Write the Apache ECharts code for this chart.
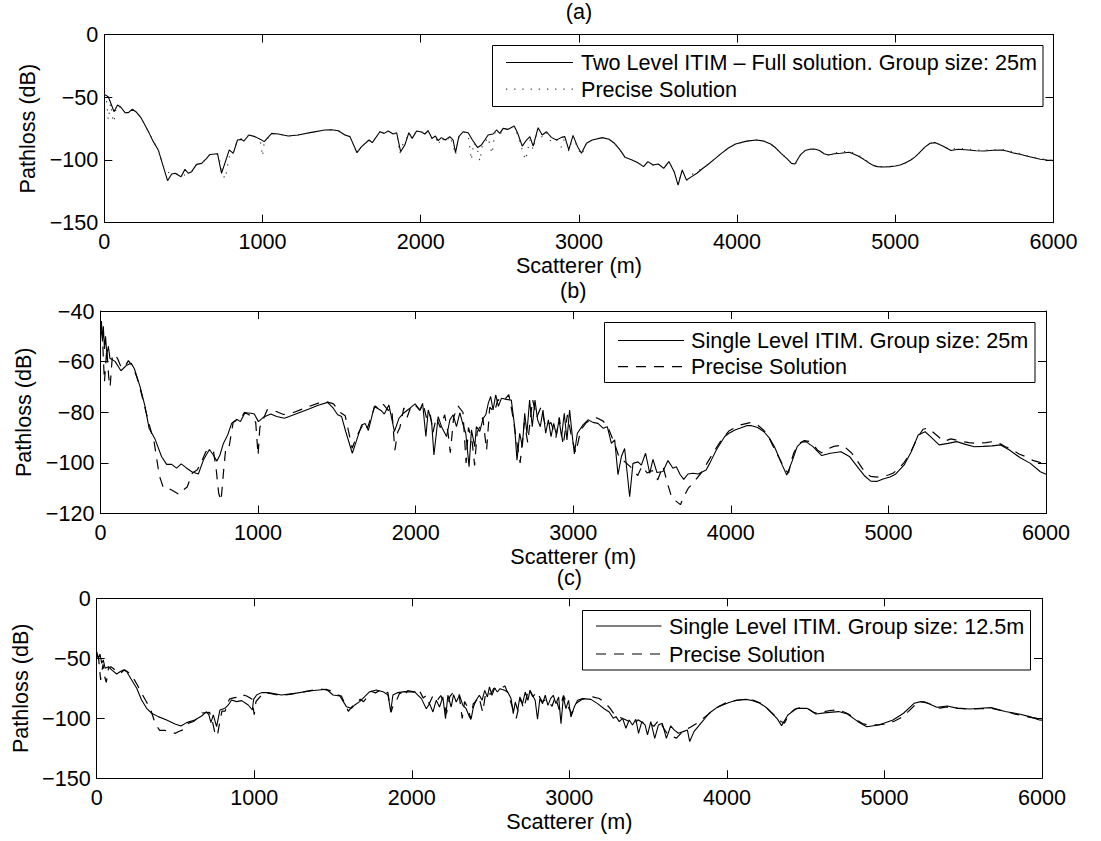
<!DOCTYPE html>
<html><head><meta charset="utf-8">
<script src="https://cdn.jsdelivr.net/npm/echarts@6/dist/echarts.min.js"></script>
<style>html,body{margin:0;padding:0;background:#fff}#c{width:1101px;height:841px}</style>
</head><body><div id="c"></div>
<script>
// ---------- data ----------
const xTicks = [0, 1000, 2000, 3000, 4000, 5000, 6000];
const yTicksA = [-150, -100, -50, 0];
const yTicksB = [-120, -100, -80, -60, -40];
const yTicksC = [-150, -100, -50, 0];
const titles = ['(a)', '(b)', '(c)'];
const xName = 'Scatterer (m)';
const yName = 'Pathloss (dB)';
const legendA = ['Two Level ITIM \u2013 Full solution. Group size: 25m', 'Precise Solution'];
const legendB = ['Single Level ITIM. Group size: 25m', 'Precise Solution'];
const legendC = ['Single Level ITIM. Group size: 12.5m', 'Precise Solution'];

// Precise solution (shared by all panels)
const precise = [[0,-47],[12,-50],[25,-68],[40,-55],[52,-66],[61,-70],[75,-58],[90,-57],[110,-59],[131,-62.3],[152,-62.3],[177,-59.6],[204,-62],[230,-66],[257,-72],[285,-79],[310,-85],[341,-92],[373,-105],[400,-110],[430,-110],[460,-111],[500,-112.5],[520,-111],[550,-109.5],[583,-104],[615,-102.7],[645,-99],[668,-95.6],[716,-95],[735,-103],[750,-112],[765,-115],[780,-104],[795,-94],[815,-94],[842,-84],[868,-83],[890,-82.5],[914,-80],[952,-81.4],[985,-84],[1000,-97],[1011,-86],[1058,-79],[1100,-79.3],[1162,-80.9],[1225,-80.1],[1310,-78],[1394,-76.1],[1437,-75.9],[1479,-76.7],[1521,-80.1],[1553,-81.4],[1597,-94.2],[1626,-89.4],[1673,-84.1],[1694,-86.2],[1742,-77.5],[1769,-78.8],[1795,-76.9],[1826,-79.3],[1848,-78.3],[1868,-95],[1885,-88],[1900,-86],[1925,-78.3],[1946,-82],[1974,-77],[2005,-77.7],[2026,-79.3],[2047,-76.7],[2072,-83],[2093,-81],[2110,-88],[2131,-82],[2156,-86],[2184,-81],[2205,-88],[2220,-96],[2241,-82],[2268,-77.5],[2300,-80],[2320,-100],[2335,-86],[2359,-92],[2374,-101],[2390,-88],[2405,-86],[2426,-82],[2450,-95],[2470,-78],[2500,-80],[2521,-75],[2553,-76],[2591,-73],[2612,-80],[2642,-92],[2663,-100],[2690,-84],[2711,-92],[2742,-75],[2768,-82],[2795,-78],[2826,-86],[2858,-84],[2890,-90],[2911,-82],[2936,-93],[2963,-81],[2990,-90],[3016,-96],[3048,-87],[3084,-84],[3148,-82.2],[3190,-83.5],[3225,-86.7],[3260,-92],[3292,-98],[3336,-100],[3370,-102],[3409,-105],[3436,-101.3],[3469,-104],[3502,-103],[3536,-106.7],[3569,-101.3],[3602,-109],[3627,-114],[3650,-115],[3680,-116.5],[3705,-113],[3730,-110],[3760,-108],[3812,-104],[3855,-99.5],[3901,-94.7],[3945,-90.5],[3990,-87.3],[4060,-85],[4123,-84.1],[4170,-85],[4212,-87.3],[4245,-90.5],[4278,-94.7],[4315,-99],[4344,-102.7],[4366,-104],[4385,-99],[4400,-96],[4430,-92.5],[4466,-91.2],[4495,-91.5],[4521,-92.5],[4550,-95],[4577,-96],[4615,-94.5],[4654,-93.5],[4710,-93],[4765,-96],[4800,-99],[4832,-102],[4860,-104.3],[4887,-105.3],[4930,-105.6],[4965,-105.3],[5000,-104.8],[5031,-104],[5065,-102.3],[5098,-100],[5125,-97.5],[5153,-94.2],[5185,-90],[5220,-86.7],[5253,-86.2],[5297,-88.6],[5352,-91.5],[5397,-90.5],[5463,-91.5],[5510,-92],[5563,-92.3],[5620,-92],[5674,-91.5],[5710,-92.5],[5740,-93.5],[5790,-95],[5829,-96.5],[5870,-97.5],[5917,-99],[5960,-99.8],[6000,-100.5]];

// (a) Two Level ITIM - full solution, group size 25 m
const twoLevel25 = [[0,-47.7],[25,-49.6],[45,-56],[61,-61.5],[84,-56.2],[105,-58],[131,-62.3],[152,-62.3],[177,-59.6],[204,-62],[230,-66],[257,-72.1],[285,-79],[310,-85.4],[341,-92],[373,-105.3],[400,-116.5],[426,-111.2],[447,-110.6],[485,-113.3],[510,-107.5],[531,-110.6],[552,-109.3],[583,-103.5],[615,-102.7],[645,-99],[668,-95.6],[716,-95.1],[741,-110.6],[762,-102.7],[790,-92],[815,-94.7],[842,-84.1],[868,-83.6],[882,-85],[914,-80.1],[952,-81.4],[988,-83.6],[1011,-85.4],[1058,-78.8],[1100,-79.3],[1162,-80.9],[1225,-80.1],[1310,-78],[1394,-76.1],[1437,-75.9],[1479,-76.7],[1521,-80.1],[1553,-81.4],[1597,-94.2],[1626,-89.4],[1673,-84.1],[1694,-86.2],[1742,-77.5],[1769,-78.8],[1795,-76.9],[1826,-79.3],[1848,-78.3],[1873,-93.4],[1900,-88],[1925,-78.3],[1946,-82.8],[1974,-76.9],[2005,-77.7],[2026,-79.3],[2047,-76.7],[2072,-82.8],[2093,-80.9],[2110,-84.6],[2131,-82.2],[2156,-84.1],[2184,-81.4],[2205,-84.1],[2220,-94.2],[2241,-81.4],[2268,-77.5],[2300,-78.3],[2327,-84.1],[2359,-90],[2384,-88],[2405,-84.1],[2426,-80.1],[2458,-79.3],[2479,-76.1],[2500,-78.8],[2521,-74.8],[2553,-75.6],[2591,-72.9],[2612,-78.3],[2642,-89],[2669,-84.1],[2690,-81.4],[2711,-89],[2742,-74.3],[2768,-80.1],[2795,-77.5],[2826,-82],[2858,-84.1],[2890,-82],[2911,-81.4],[2936,-92],[2963,-80.4],[2990,-89],[3016,-94.7],[3048,-86.7],[3084,-84.1],[3148,-82.2],[3190,-83.5],[3225,-86.7],[3260,-92],[3292,-97.9],[3336,-100],[3370,-102],[3409,-105.3],[3436,-101.3],[3469,-104],[3502,-103.2],[3536,-106.7],[3569,-101.3],[3602,-109.3],[3627,-120],[3653,-108],[3680,-116],[3713,-113.3],[3746,-110.6],[3780,-107],[3812,-104],[3855,-99.5],[3901,-94.7],[3945,-90.5],[3990,-87.3],[4060,-85],[4123,-84.1],[4170,-85],[4212,-87.3],[4245,-90.5],[4278,-94.7],[4315,-99],[4344,-102.7],[4366,-103.2],[4385,-99],[4400,-96],[4430,-92.5],[4466,-91.2],[4495,-91.5],[4521,-92.5],[4550,-95],[4577,-96],[4615,-95],[4654,-94.7],[4710,-93.9],[4765,-96.8],[4800,-99.5],[4832,-102.2],[4860,-104.3],[4887,-105.3],[4930,-105.6],[4965,-105.3],[5000,-104.8],[5031,-104],[5065,-102.3],[5098,-100],[5125,-97.5],[5153,-94.2],[5185,-90],[5220,-86.7],[5253,-86.2],[5297,-88.6],[5352,-92.5],[5397,-91.5],[5463,-92],[5510,-92.6],[5563,-92.8],[5620,-92.3],[5674,-92],[5710,-93],[5740,-94.2],[5790,-95.5],[5829,-96.8],[5870,-98],[5917,-99.4],[5960,-100],[6000,-100.5]];

// (b) Single Level ITIM, group size 25 m
const single25 = [[0,-48],[6,-44],[12,-52],[18,-46],[25,-55],[32,-50],[40,-57],[50,-54],[60,-58.7],[92,-59.9],[130,-63.6],[166,-61.4],[194,-60.6],[215,-62.8],[251,-69.9],[283,-77.8],[308,-86.3],[346,-90.6],[388,-97.6],[420,-100.6],[452,-100.6],[483,-102.1],[512,-100.4],[541,-101.8],[579,-103.5],[621,-104.4],[653,-98.9],[691,-94.7],[712,-96.5],[739,-99.3],[758,-96.9],[780,-92.3],[807,-89],[832,-84.4],[864,-82.8],[888,-83.7],[917,-80.2],[955,-80.4],[976,-80.7],[1002,-83.7],[1033,-82],[1080,-80.7],[1118,-81.7],[1167,-82.4],[1235,-80.8],[1319,-78.8],[1382,-77.2],[1441,-76.1],[1477,-78.4],[1505,-81],[1530,-81.7],[1556,-87.6],[1598,-96.2],[1626,-90.9],[1657,-85],[1679,-84.4],[1700,-87.2],[1738,-77.7],[1780,-79.3],[1801,-80.7],[1830,-77.1],[1865,-87.6],[1894,-82.4],[1922,-80.4],[1964,-78.4],[1996,-76.7],[2027,-79.1],[2044,-76.5],[2065,-89.6],[2080,-79.1],[2101,-83.7],[2116,-96.9],[2143,-81.7],[2164,-85.7],[2196,-89.6],[2217,-83],[2238,-81],[2259,-85.7],[2280,-80.2],[2301,-85],[2318,-88.3],[2339,-101.5],[2354,-87],[2375,-93.6],[2385,-85.7],[2407,-87.6],[2428,-82.4],[2445,-81],[2461,-76.4],[2476,-73.8],[2491,-79.1],[2508,-73.1],[2525,-77.7],[2544,-74.5],[2576,-74.9],[2607,-75.2],[2628,-85.7],[2643,-98.9],[2660,-88.3],[2677,-93.6],[2692,-80.4],[2706,-88.3],[2723,-75.2],[2740,-85.7],[2757,-75.2],[2774,-83],[2791,-85.7],[2808,-79.1],[2825,-88.3],[2842,-83],[2859,-89.6],[2876,-84.4],[2893,-89],[2910,-83],[2926,-89.6],[2943,-80.4],[2960,-90.9],[2977,-79.1],[2992,-88.3],[3007,-96.5],[3026,-88.3],[3062,-85],[3094,-83],[3125,-84],[3157,-84.4],[3189,-86.3],[3216,-85.7],[3242,-92.3],[3263,-90.9],[3284,-104.7],[3305,-97.6],[3326,-94.3],[3358,-113.4],[3379,-100.2],[3411,-99.6],[3432,-100.9],[3459,-96.2],[3485,-104.1],[3506,-98.6],[3531,-103.8],[3569,-103.4],[3601,-99.1],[3633,-102.1],[3654,-101.5],[3679,-104.7],[3701,-106.5],[3728,-104.4],[3760,-104.1],[3792,-104.4],[3824,-103.4],[3843,-102.8],[3866,-100.2],[3908,-94.9],[3961,-89.6],[3988,-88.3],[4030,-86.9],[4066,-86.1],[4100,-85.3],[4132,-85.3],[4170,-86],[4210,-87.7],[4245,-90.2],[4277,-93.6],[4300,-97],[4321,-100.2],[4355,-104.8],[4388,-99.5],[4421,-93.6],[4450,-91.8],[4477,-91.6],[4521,-93.6],[4577,-97.1],[4632,-96.2],[4699,-95.6],[4755,-97.6],[4811,-102.2],[4850,-105.2],[4888,-107.2],[4930,-107.3],[4966,-106.4],[5010,-105.6],[5044,-104.5],[5100,-100.8],[5145,-95.6],[5189,-89],[5233,-87.7],[5267,-89.6],[5322,-92.9],[5378,-92.3],[5434,-91.6],[5489,-92.7],[5545,-93.6],[5600,-93.5],[5657,-93.3],[5712,-92.9],[5768,-94.9],[5834,-97.9],[5901,-100.2],[5964,-103.5],[6000,-104.5]];

// (c) Single Level ITIM, group size 12.5 m
const single125 = [[0,-44.5],[11,-50],[21,-46.4],[32,-54.2],[42,-51.4],[53,-58.3],[74,-57],[95,-59.7],[127,-63.1],[150,-61],[169,-59.7],[190,-61],[222,-68.1],[254,-75],[285,-84.7],[317,-91.7],[349,-95.8],[391,-98.6],[444,-101.4],[497,-104.7],[535,-106.4],[571,-103.6],[623,-101.4],[666,-98.1],[697,-94.5],[712,-97.2],[725,-103.6],[740,-97.2],[761,-107],[782,-93.1],[814,-91.7],[835,-88.9],[856,-84.7],[888,-86.1],[920,-85.3],[962,-88.9],[988,-93.1],[996,-84.2],[1015,-80.6],[1046,-78.6],[1088,-78.6],[1173,-80.6],[1257,-79.2],[1363,-77],[1458,-75.8],[1500,-80.6],[1543,-81.4],[1585,-90.3],[1617,-91.7],[1638,-88.9],[1669,-86.1],[1701,-82],[1733,-77.8],[1775,-76.4],[1817,-77.8],[1849,-80.6],[1866,-94.5],[1880,-80.6],[1912,-78.6],[1955,-77.8],[1987,-78.1],[2018,-77.8],[2029,-79.5],[2061,-83.6],[2092,-92],[2113,-87.8],[2134,-94.7],[2155,-85],[2176,-90.6],[2197,-82.2],[2214,-100.3],[2229,-80.8],[2250,-90.6],[2265,-80.3],[2282,-86.4],[2303,-80.8],[2324,-89.2],[2345,-92],[2366,-98.9],[2377,-100.2],[2391,-90.6],[2408,-85],[2429,-80.8],[2446,-85],[2463,-76.7],[2480,-82.2],[2493,-73.9],[2509,-80.8],[2526,-74.7],[2543,-78.1],[2560,-75.3],[2588,-76.7],[2609,-78.1],[2630,-83.6],[2644,-96.1],[2657,-86.4],[2672,-93.3],[2686,-82.2],[2703,-87.8],[2720,-78.1],[2737,-85],[2750,-76.7],[2766,-80.8],[2783,-85],[2798,-100.8],[2813,-83.6],[2830,-87.8],[2847,-80.8],[2864,-89.2],[2881,-83.6],[2898,-80.8],[2915,-87.8],[2932,-82.2],[2947,-104.4],[2962,-82.2],[2978,-92],[2995,-85],[3010,-98.9],[3031,-90.6],[3052,-85],[3084,-83.6],[3137,-84.2],[3179,-87.8],[3221,-92],[3253,-94.7],[3279,-100],[3296,-98.6],[3317,-102.8],[3338,-100],[3359,-108.3],[3380,-101.4],[3401,-105.6],[3422,-100.8],[3439,-112.5],[3460,-102.8],[3481,-105.6],[3496,-113.9],[3517,-102.8],[3542,-116.7],[3565,-105.6],[3590,-104.2],[3616,-116.7],[3643,-106.4],[3665,-109.7],[3692,-112.5],[3722,-111.1],[3749,-109.7],[3764,-119.4],[3791,-111.1],[3834,-104.2],[3853,-101.4],[3887,-95.8],[3942,-90.5],[4014,-86.9],[4060,-85],[4120,-84.2],[4160,-85.2],[4209,-87.5],[4250,-91],[4287,-95.8],[4320,-100.5],[4347,-106.1],[4387,-97.2],[4443,-91.7],[4509,-91.7],[4565,-96.4],[4632,-95.3],[4709,-94.4],[4765,-96.4],[4832,-102.8],[4887,-107],[4965,-105.6],[5054,-101.4],[5121,-95.8],[5188,-87.5],[5232,-86.1],[5276,-87.5],[5332,-90.8],[5399,-89.7],[5465,-91.7],[5543,-92.2],[5610,-91.6],[5677,-91.1],[5766,-94.4],[5855,-96.4],[5921,-98.6],[5984,-101.4],[6000,-101.5]];

// ---------- chart ----------
const FONT = '"Liberation Sans", Arial, Helvetica, sans-serif';
const FS = 21.6;
const grids = [
  {left: 104.3, top: 34.5, width: 949.2, height: 188.2},
  {left: 100.5, top: 311, width: 945.5, height: 202.5},
  {left: 96.7, top: 598.3, width: 945.3, height: 180}
];
const yTickSets = [yTicksA, yTicksB, yTicksC];
const fmt = v => (v < 0 ? '\u2212' + Math.abs(v) : String(v));

const xAxes = [], yAxes = [], series = [];
grids.forEach((g, i) => {
  const base = {
    type: 'value', gridIndex: i,
    min: xTicks[0], max: xTicks[xTicks.length - 1], interval: xTicks[1] - xTicks[0],
    axisLine: {show: true, onZero: false, lineStyle: {color: '#000', width: 1}},
    axisTick: {show: true, inside: true, length: 8, lineStyle: {color: '#000', width: 1}},
    splitLine: {show: false}
  };
  xAxes.push(Object.assign({}, base, {
    position: 'bottom',
    axisLabel: {show: true, color: '#000', fontFamily: FONT, fontSize: FS, margin: 8, formatter: fmt},
    name: xName, nameLocation: 'middle', nameGap: 32,
    nameTextStyle: {color: '#000', fontFamily: FONT, fontSize: FS}
  }));
  xAxes.push(Object.assign({}, base, {position: 'top', axisLabel: {show: false}}));
  const yt = yTickSets[i];
  const ybase = {
    type: 'value', gridIndex: i,
    min: yt[0], max: yt[yt.length - 1], interval: yt[1] - yt[0],
    axisLine: {show: true, onZero: false, lineStyle: {color: '#000', width: 1}},
    axisTick: {show: true, inside: true, length: 8, lineStyle: {color: '#000', width: 1}},
    splitLine: {show: false}
  };
  yAxes.push(Object.assign({}, ybase, {
    position: 'left',
    axisLabel: {show: true, color: '#000', fontFamily: FONT, fontSize: FS, margin: 6, formatter: fmt},
    name: yName, nameLocation: 'middle', nameGap: 56,
    nameTextStyle: {color: '#000', fontFamily: FONT, fontSize: FS}
  }));
  yAxes.push(Object.assign({}, ybase, {position: 'right', axisLabel: {show: false}}));
});

const mainData = [twoLevel25, single25, single125];
const legends = [legendA, legendB, legendC];
const preciseStyles = [
  {color: '#333', width: 1.2, type: [1.2, 7]},
  {color: '#000', width: 1.2, type: [10, 8]},
  {color: '#000', width: 1.2, type: [10, 8]}
];
for (let i = 0; i < 3; i++) {
  series.push({
    type: 'line', name: legends[i][0], xAxisIndex: 2 * i, yAxisIndex: 2 * i,
    data: mainData[i], showSymbol: false, symbol: 'none', clip: true,
    lineStyle: {color: '#000', width: 1.1}, z: 2
  });
  series.push({
    type: 'line', name: legends[i][1] + ' ' + titles[i], xAxisIndex: 2 * i, yAxisIndex: 2 * i,
    data: precise, showSymbol: false, symbol: 'none', clip: true,
    lineStyle: preciseStyles[i], z: 3
  });
}

// titles
const titleOpts = grids.map((g, i) => ({
  text: titles[i], left: g.left + g.width / 2, top: [0, 279, 566][i], textAlign: 'center', padding: 0,
  textStyle: {color: '#000', fontFamily: FONT, fontSize: FS, fontWeight: 'normal'}
}));

// legend boxes (graphic)
const legendBoxes = [
  {x: 492.5, y: 45.5, w: 550.5, h: 61, lx1: 506, lx2: 573, tx: 581, r1: 62.5, r2: 89.2},
  {x: 604.5, y: 322.5, w: 430.5, h: 60, lx1: 618, lx2: 684, tx: 691, r1: 340.5, r2: 366.7},
  {x: 582.5, y: 610.5, w: 448, h: 59.5, lx1: 596, lx2: 661.5, tx: 669, r1: 626, r2: 654}
];
const graphic = [];
legendBoxes.forEach((b, i) => {
  graphic.push({type: 'rect', z: 100, shape: {x: b.x, y: b.y, width: b.w, height: b.h},
    style: {fill: '#fff', stroke: '#000', lineWidth: 1}});
  graphic.push({type: 'line', z: 101, shape: {x1: b.lx1, y1: b.r1, x2: b.lx2, y2: b.r1},
    style: {stroke: '#000', lineWidth: 1.1}});
  graphic.push({type: 'line', z: 101, shape: {x1: b.lx1, y1: b.r2, x2: b.lx2, y2: b.r2},
    style: {stroke: preciseStyles[i].color, lineWidth: preciseStyles[i].width, lineDash: preciseStyles[i].type}});
  [legends[i][0], legends[i][1]].forEach((t, k) => {
    graphic.push({type: 'text', z: 101, x: b.tx, y: k === 0 ? b.r1 : b.r2,
      style: {text: t, fill: '#000', font: FS + 'px ' + FONT, fontSize: FS, fontFamily: FONT,
        align: 'left', verticalAlign: 'middle', textAlign: 'left', textVerticalAlign: 'middle'}});
  });
});

const chart = echarts.init(document.getElementById('c'), null, {renderer: 'svg', width: 1101, height: 841});
chart.setOption({
  animation: false,
  backgroundColor: '#fff',
  title: titleOpts,
  grid: grids.map(g => Object.assign({containLabel: false}, g)),
  xAxis: xAxes,
  yAxis: yAxes,
  series: series,
  graphic: graphic
});
</script>
</body></html>
